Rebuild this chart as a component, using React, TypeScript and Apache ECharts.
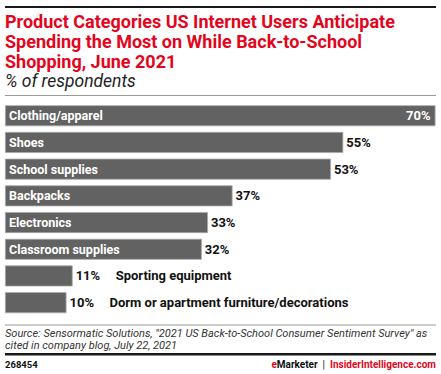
import React, { useEffect, useRef } from "react";
import * as echarts from "echarts";

const titleLines = [
  "Product Categories US Internet Users Anticipate",
  "Spending the Most on While Back-to-School",
  "Shopping, June 2021",
];
const subtitle = "% of respondents";
const categories = [
  "Clothing/apparel",
  "Shoes",
  "School supplies",
  "Backpacks",
  "Electronics",
  "Classroom supplies",
  "Sporting equipment",
  "Dorm or apartment furniture/decorations",
];
const values = [70, 55, 53, 37, 33, 32, 11, 10];
const sourceLines = [
  'Source: Sensormatic Solutions, "2021 US Back-to-School Consumer Sentiment Survey" as',
  "cited in company blog, July 22, 2021",
];
const chartId = "268454";

const FONT = "Roboto";
const RED = "#e3051b";
const BAR = "#626262";

export default function App() {
  const ref = useRef<HTMLDivElement>(null);
  useEffect(() => {
    if (!ref.current) return;
    const chart = echarts.init(ref.current, undefined, { renderer: "svg" });
    const maxV = Math.max(...values);
    const nameOutside = (v: number) => v < 20;

    chart.setOption({
      animation: false,
      grid: { left: 5, right: 5.5, top: 102.4, bottom: 58 },
      xAxis: { type: "value", min: 0, max: maxV, show: false },
      yAxis: { type: "category", data: categories, inverse: true, show: false },
      series: [
        {
          type: "bar",
          barWidth: 21,
          data: values.map((v, i) => ({
            value: v,
            label: {
              show: !nameOutside(v),
              position: "insideLeft",
              distance: 4,
              formatter: categories[i],
              color: "#fff",
              fontFamily: FONT,
              fontWeight: "bold",
              fontSize: 12.5,
            },
          })),
          itemStyle: { color: BAR, borderColor: "#a8a8a8", borderWidth: 0.8 },
        },
        {
          type: "bar",
          barWidth: 21,
          barGap: "-100%",
          silent: true,
          itemStyle: { color: "transparent" },
          data: values.map((v, i) => {
            const isMax = v === maxV;
            const out = nameOutside(v);
            return {
              value: v,
              label: {
                show: true,
                position: isMax ? "insideRight" : "right",
                distance: isMax ? 5 : 3,
                formatter: out ? `{v|${v}%}{n|${categories[i]}}` : `${v}%`,
                color: isMax ? "#fff" : "#111",
                fontFamily: FONT,
                fontWeight: "bold",
                fontSize: 13,
                rich: {
                  v: { width: 40, color: "#111", fontFamily: FONT, fontWeight: "bold", fontSize: 13 },
                  n: { color: "#111", fontFamily: FONT, fontWeight: "bold", fontSize: 13 },
                },
              },
            };
          }),
        },
      ],
      graphic: [
        { type: "rect", shape: { x: 5, y: 6, width: 431, height: 2 }, style: { fill: "#1a1a1a" } },
        {
          type: "text",
          x: 5,
          y: 11,
          style: {
            text: titleLines.join("\n"),
            fill: RED,
            font: `bold 18px ${FONT}`,
            lineHeight: 20,
          },
        },
        {
          type: "text",
          x: 5,
          y: 72,
          style: { text: subtitle, fill: "#222", font: `italic 17.5px ${FONT}` },
        },
        { type: "rect", shape: { x: 5, y: 95, width: 431, height: 1 }, style: { fill: "#999" } },
        { type: "rect", shape: { x: 5, y: 324.5, width: 431, height: 1 }, style: { fill: "#999" } },
        {
          type: "text",
          x: 5,
          y: 327,
          style: {
            text: sourceLines.join("\n"),
            fill: "#333",
            font: `italic 11px ${FONT}`,
            lineHeight: 12.5,
          },
        },
        { type: "rect", shape: { x: 5, y: 353, width: 431, height: 2.5 }, style: { fill: "#1a1a1a" } },
        {
          type: "text",
          x: 5,
          y: 364,
          style: { text: chartId, fill: "#111", font: `bold 9.5px ${FONT}`, verticalAlign: "middle" },
        },
        {
          type: "text",
          x: 436,
          y: 364,
          style: {
            text: "{e|e}{m|Marketer}{s|  |  }{i|InsiderIntelligence.com}",
            align: "right",
            verticalAlign: "middle",
            rich: {
              e: { fill: RED, font: `bold 10px ${FONT}` },
              m: { fill: "#111", font: `bold 10px ${FONT}` },
              s: { fill: "#111", font: `10px ${FONT}` },
              i: { fill: RED, font: `bold 10px ${FONT}` },
            },
          },
        },
      ],
    });
    return () => chart.dispose();
  }, []);
  return (
    <div
      ref={ref}
      style={{ position: "absolute", left: 0, top: 0, width: 441, height: 374 }}
    />
  );
}
